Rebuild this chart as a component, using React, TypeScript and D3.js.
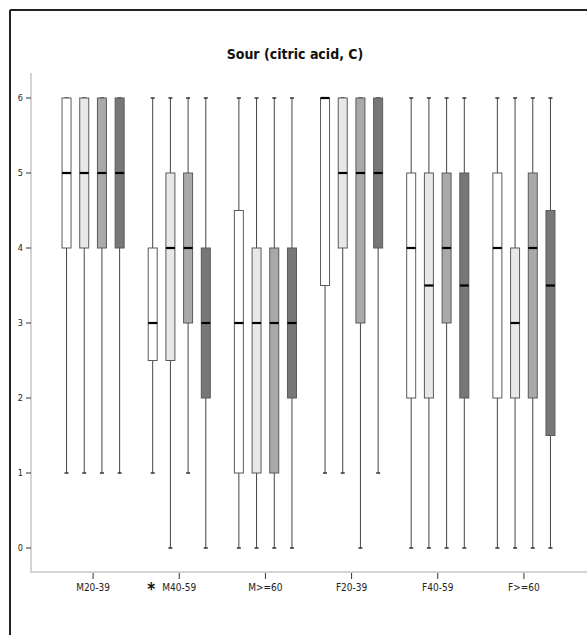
import React from "react";
import * as d3 from "d3";

const categories = ["M20-39", "M40-59", "M>=60", "F20-39", "F40-59", "F>=60"];
const seriesKeys = ["s1", "s2", "s3", "s4"];
const fills = ["#ffffff", "#e8e8e8", "#a9a9a9", "#777777"];
const yTicks = [0, 1, 2, 3, 4, 5, 6];

// [whiskerLow, q1, median, q3, whiskerHigh] per category, per series
const stats: number[][][] = [
  [[1, 4, 5, 6, 6], [1, 4, 5, 6, 6], [1, 4, 5, 6, 6], [1, 4, 5, 6, 6]],
  [[1, 2.5, 3, 4, 6], [0, 2.5, 4, 5, 6], [1, 3, 4, 5, 6], [0, 2, 3, 4, 6]],
  [[0, 1, 3, 4.5, 6], [0, 1, 3, 4, 6], [0, 1, 3, 4, 6], [0, 2, 3, 4, 6]],
  [[1, 3.5, 6, 6, 6], [1, 4, 5, 6, 6], [0, 3, 5, 6, 6], [1, 4, 5, 6, 6]],
  [[0, 2, 4, 5, 6], [0, 2, 3.5, 5, 6], [0, 3, 4, 5, 6], [0, 2, 3.5, 5, 6]],
  [[0, 2, 4, 5, 6], [0, 2, 3, 4, 6], [0, 2, 4, 5, 6], [0, 1.5, 3.5, 4.5, 6]],
];
const starred = ["M40-59"];

export default function App() {
  const W = 587, H = 635;
  const x0 = d3.scaleBand<string>().domain(categories).range([50, 567]).padding(0);
  const x1 = d3.scaleBand<string>().domain(seriesKeys).range([-35.4, 35.4]).padding(0);
  const y = d3.scaleLinear().domain([0, 6]).range([548, 98]);
  const boxW = 9;
  const axisColor = "#d4d4d4";
  const font = "'DejaVu Sans Condensed', 'DejaVu Sans', sans-serif";

  return (
    <svg width={W} height={H} style={{ position: "absolute", left: 0, top: 0 }}>
      <rect x={0} y={0} width={W} height={H} fill="#fff" />
      {/* frame */}
      <line x1={10} y1={10} x2={W} y2={10} stroke="#222" strokeWidth={2} />
      <line x1={10} y1={10} x2={10} y2={H} stroke="#222" strokeWidth={2} />
      <text x={295} y={59} textAnchor="middle" fontFamily={font} fontWeight="bold" fontSize={14} fill="#111">
        Sour (citric acid, C)
      </text>
      {/* axes */}
      <line x1={31} y1={73} x2={31} y2={572} stroke={axisColor} strokeWidth={2} />
      <line x1={30} y1={572} x2={W} y2={572} stroke={axisColor} strokeWidth={2} />
      {yTicks.map((t) => (
        <g key={t}>
          <line x1={26} x2={31} y1={y(t)} y2={y(t)} stroke="#333" strokeWidth={1} />
          <text x={23} y={y(t) + 3} textAnchor="end" fontFamily={font} fontSize={9} fill="#222">
            {t}
          </text>
        </g>
      ))}
      {categories.map((c) => {
        const cx = (x0(c) ?? 0) + x0.bandwidth() / 2;
        return (
          <g key={c}>
            <line x1={cx} x2={cx} y1={573} y2={579} stroke="#333" strokeWidth={1} />
            <text x={cx} y={591} textAnchor="middle" fontFamily={font} fontSize={10} fill="#222">
              {c}
            </text>
            {starred.includes(c) && (
              <text x={cx - 28} y={595} textAnchor="middle" fontFamily={font} fontSize={17} fontWeight="bold" fill="#111">
                *
              </text>
            )}
          </g>
        );
      })}
      {categories.map((c, ci) => {
        const cx = (x0(c) ?? 0) + x0.bandwidth() / 2;
        return seriesKeys.map((s, si) => {
          const [lo, q1, med, q3, hi] = stats[ci][si];
          const bx = cx + (x1(s) ?? 0) + x1.bandwidth() / 2;
          return (
            <g key={c + s}>
              <line x1={bx} x2={bx} y1={y(hi)} y2={y(q3)} stroke="#444" strokeWidth={1} />
              <line x1={bx} x2={bx} y1={y(q1)} y2={y(lo)} stroke="#444" strokeWidth={1} />
              <line x1={bx - 2} x2={bx + 2} y1={y(hi)} y2={y(hi)} stroke="#333" strokeWidth={1.5} />
              <line x1={bx - 2} x2={bx + 2} y1={y(lo)} y2={y(lo)} stroke="#333" strokeWidth={1.5} />
              <rect
                x={bx - boxW / 2}
                y={y(q3)}
                width={boxW}
                height={Math.max(0, y(q1) - y(q3))}
                fill={fills[si]}
                stroke="#5a5a5a"
                strokeWidth={1}
              />
              <line x1={bx - boxW / 2} x2={bx + boxW / 2} y1={y(med)} y2={y(med)} stroke="#000" strokeWidth={2.2} />
            </g>
          );
        });
      })}
    </svg>
  );
}
